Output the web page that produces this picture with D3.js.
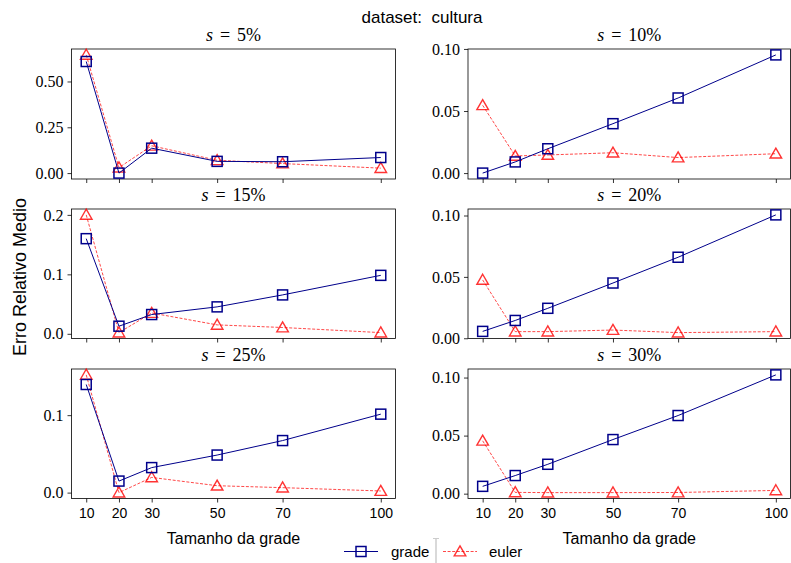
<!DOCTYPE html>
<html>
<head>
<meta charset="utf-8">
<script src="https://cdn.jsdelivr.net/npm/d3@7"></script>
<style>
  html, body { margin: 0; padding: 0; background: #fff; }
  svg text { white-space: pre; }
</style>
</head>
<body>
<svg id="chart" width="791" height="563"></svg>
<script>
// Grid sizes tested
const gridSizes = [10, 20, 30, 50, 70, 100];
const xTickLabels = ["10", "20", "30", "50", "70", "100"];

// Sample sizes, one panel each
const sampleLabels = ["5%", "10%", "15%", "20%", "25%", "30%"];

// Mean relative error, "grade" method
const gradeS5  = [0.609, 0.000, 0.136, 0.064, 0.062, 0.085];
const gradeS10 = [0.000, 0.009, 0.0196, 0.0398, 0.0605, 0.0952];
const gradeS15 = [0.160, 0.0128, 0.0324, 0.0453, 0.0654, 0.0983];
const gradeS20 = [0.0056, 0.0145, 0.0244, 0.045, 0.066, 0.1005];
const gradeS25 = [0.1396, 0.0149, 0.0323, 0.0485, 0.0672, 0.1013];
const gradeS30 = [0.0063, 0.0156, 0.0253, 0.0466, 0.0673, 0.1023];

// Mean relative error, "euler" method
const eulerS5  = [0.645, 0.030, 0.149, 0.070, 0.052, 0.027];
const eulerS10 = [0.0546, 0.0138, 0.0146, 0.0164, 0.0125, 0.0156];
const eulerS15 = [0.200, 0.002, 0.035, 0.015, 0.0106, 0.002];
const eulerS20 = [0.0475, 0.0054, 0.0054, 0.0067, 0.0046, 0.0054];
const eulerS25 = [0.152, 0.000, 0.0196, 0.0089, 0.0064, 0.0021];
const eulerS30 = [0.0455, 0.0011, 0.0009, 0.0009, 0.0010, 0.0028];

// Y tick values per panel
const yTicksS5  = [0, 0.25, 0.5];
const yTicksS10 = [0, 0.05, 0.10];
const yTicksS15 = [0, 0.1, 0.2];
const yTicksS20 = [0, 0.05, 0.10];
const yTicksS25 = [0, 0.1];
const yTicksS30 = [0, 0.05, 0.10];

const yFormats = [".2f", ".2f", ".1f", ".2f", ".1f", ".2f"];

const gradeSeries = [gradeS5, gradeS10, gradeS15, gradeS20, gradeS25, gradeS30];
const eulerSeries = [eulerS5, eulerS10, eulerS15, eulerS20, eulerS25, eulerS30];
const yTickSets = [yTicksS5, yTicksS10, yTicksS15, yTicksS20, yTicksS25, yTicksS30];

const GRADE_COLOR = "#00008b";
const EULER_COLOR = "#ff0000";
const SERIF = "'Liberation Serif', 'DejaVu Serif', serif";
const SANS = "'Liberation Sans', 'DejaVu Sans', sans-serif";

const svg = d3.select("#chart");

// Panel layout: 3 rows x 2 columns
const cols = [[71.5, 395.5], [468, 790.5]];
const rows = [[49, 179], [209, 338.5], [369, 498.5]];

svg.append("text")
  .attr("x", 422).attr("y", 23)
  .attr("text-anchor", "middle")
  .attr("font-family", SANS).attr("font-size", 17)
  .text("dataset:  cultura");

svg.append("text")
  .attr("transform", "translate(26,277) rotate(-90)")
  .attr("text-anchor", "middle")
  .attr("font-family", SANS).attr("font-size", 18)
  .text("Erro Relativo Medio");

sampleLabels.forEach((lab, i) => {
  const r = Math.floor(i / 2), c = i % 2;
  const [x0, x1] = cols[c];
  const [y0, y1] = rows[r];
  const g = svg.append("g");

  const x = d3.scaleLinear().domain([5.5, 104.5]).range([x0, x1]);
  const all = gradeSeries[i].concat(eulerSeries[i]);
  const lo = d3.min(all), hi = d3.max(all), pad = (hi - lo) * 0.05;
  const y = d3.scaleLinear().domain([lo - pad, hi + pad]).range([y1, y0]);

  // Y axis
  const ya = g.append("g").attr("transform", `translate(${x0},0)`)
    .call(d3.axisLeft(y).tickValues(yTickSets[i]).tickFormat(d3.format(yFormats[i]))
      .tickSize(4).tickPadding(4));
  ya.select(".domain").remove();
  ya.selectAll("text").attr("font-family", SERIF).attr("font-size", 16).attr("fill", "#000");
  ya.selectAll("line").attr("stroke", "#000").attr("stroke-width", 0.8);

  // X axis
  const xa = g.append("g").attr("transform", `translate(0,${y1})`)
    .call(d3.axisBottom(x).tickValues(gridSizes)
      .tickFormat((d, k) => r === 2 ? xTickLabels[k] : "")
      .tickSize(4).tickPadding(6));
  xa.select(".domain").remove();
  xa.selectAll("text").attr("font-family", SANS).attr("font-size", 14).attr("fill", "#000");
  xa.selectAll("line").attr("stroke", "#000").attr("stroke-width", 0.8);

  // Frame
  g.append("rect")
    .attr("x", x0).attr("y", y0).attr("width", x1 - x0).attr("height", y1 - y0)
    .attr("fill", "none").attr("stroke", "#000").attr("stroke-width", 0.8);

  // Panel title: s = N%
  const t = g.append("text")
    .attr("x", (x0 + x1) / 2).attr("y", y0 - 8)
    .attr("text-anchor", "middle")
    .attr("font-family", SERIF).attr("font-size", 18);
  t.append("tspan").attr("font-style", "italic").text("s");
  t.append("tspan").attr("dx", 7).text("=");
  t.append("tspan").attr("dx", 7).text(lab);

  const line = d3.line().x((d, k) => x(gridSizes[k])).y(d => y(d));

  // euler series
  g.append("path").datum(eulerSeries[i])
    .attr("d", line).attr("fill", "none")
    .attr("stroke", EULER_COLOR).attr("stroke-opacity", 0.8)
    .attr("stroke-width", 0.9).attr("stroke-dasharray", "3,1.6");
  const tri = d3.symbol().type(d3.symbolTriangle).size(58);
  g.selectAll(".tri").data(eulerSeries[i]).join("path")
    .attr("transform", (d, k) => `translate(${x(gridSizes[k])},${y(d) + 1})`)
    .attr("d", tri).attr("fill", "none")
    .attr("stroke", EULER_COLOR).attr("stroke-opacity", 0.8).attr("stroke-width", 1.4);

  // grade series
  g.append("path").datum(gradeSeries[i])
    .attr("d", line).attr("fill", "none")
    .attr("stroke", GRADE_COLOR).attr("stroke-width", 1);
  g.selectAll(".sq").data(gradeSeries[i]).join("rect")
    .attr("x", (d, k) => x(gridSizes[k]) - 5)
    .attr("y", d => y(d) - 5)
    .attr("width", 10).attr("height", 10)
    .attr("fill", "none").attr("stroke", GRADE_COLOR).attr("stroke-width", 1.5);

  if (r === 2) {
    svg.append("text")
      .attr("x", (x0 + x1) / 2).attr("y", 544)
      .attr("text-anchor", "middle")
      .attr("font-family", SANS).attr("font-size", 16)
      .text("Tamanho da grade");
  }
});

// Legend
const leg = svg.append("g");
const ly = 551.5;
leg.append("line").attr("x1", 344).attr("x2", 378).attr("y1", ly).attr("y2", ly)
  .attr("stroke", GRADE_COLOR).attr("stroke-width", 1);
leg.append("rect").attr("x", 356).attr("y", ly - 5).attr("width", 10).attr("height", 10)
  .attr("fill", "none").attr("stroke", GRADE_COLOR).attr("stroke-width", 1.5);
leg.append("text").attr("x", 391).attr("y", ly + 5)
  .attr("font-family", SANS).attr("font-size", 15).text("grade");
leg.append("line").attr("x1", 436).attr("x2", 436).attr("y1", 538).attr("y2", 563)
  .attr("stroke", "#cccccc").attr("stroke-width", 1.5);
leg.append("line").attr("x1", 433).attr("x2", 439).attr("y1", 538.5).attr("y2", 538.5)
  .attr("stroke", "#cccccc").attr("stroke-width", 1);
leg.append("line").attr("x1", 443).attr("x2", 477).attr("y1", ly).attr("y2", ly)
  .attr("stroke", EULER_COLOR).attr("stroke-opacity", 0.8)
  .attr("stroke-width", 0.9).attr("stroke-dasharray", "3,1.6");
leg.append("path").attr("transform", `translate(460,${ly + 1})`)
  .attr("d", d3.symbol().type(d3.symbolTriangle).size(58)())
  .attr("fill", "none").attr("stroke", EULER_COLOR).attr("stroke-opacity", 0.8).attr("stroke-width", 1.4);
leg.append("text").attr("x", 489).attr("y", ly + 5)
  .attr("font-family", SANS).attr("font-size", 15).text("euler");
</script>
</body>
</html>
